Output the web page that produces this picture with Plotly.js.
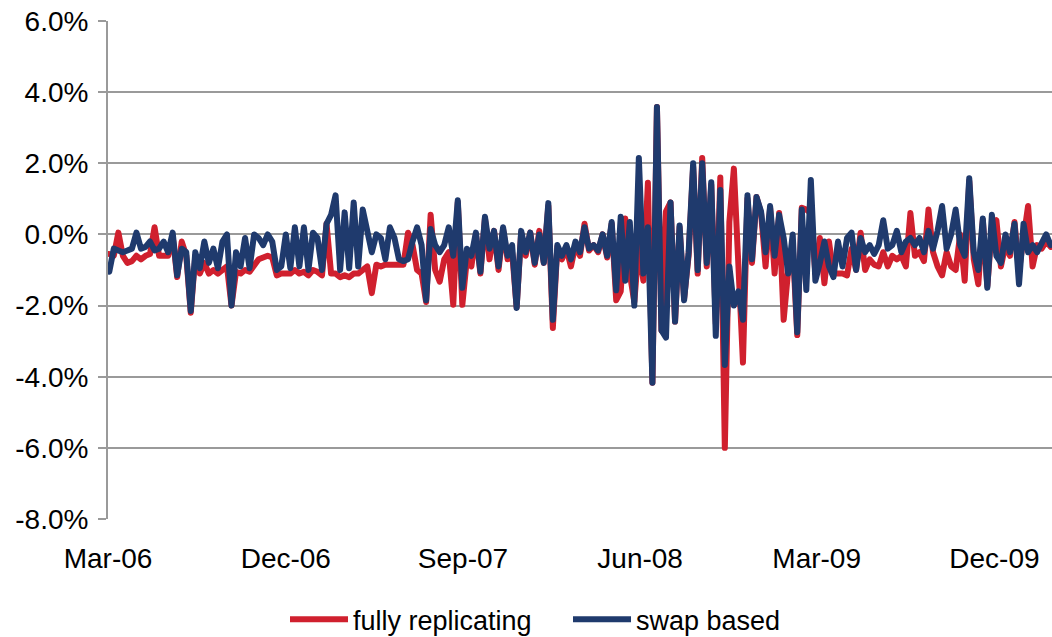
<!DOCTYPE html>
<html>
<head>
<meta charset="utf-8">
<script src="https://cdn.plot.ly/plotly-3.0.1.min.js"></script>
<style>
  html, body { margin: 0; padding: 0; background: #fff; }
  #chart { width: 1052px; height: 637px; }
  .scatterlayer path.js-line { stroke-linejoin: round; stroke-linecap: round; }
</style>
</head>
<body>
<div id="chart"></div>
<script>
// Weekly observations starting 2006-03-03 (one value every 7 days)
const startDate = '2006-03-03';
const stepDays = 7;

const fullyReplicating = [
  -0.55,-0.6,0.05,-0.6,-0.8,-0.75,-0.6,-0.7,-0.6,-0.55,
  0.2,-0.6,-0.6,-0.6,-0.05,-1.2,-0.2,-0.6,-2.2,-0.6,
  -1.1,-0.8,-1.1,-1.0,-1.1,-1.0,-0.9,-2.0,-1.05,-1.1,
  -1.0,-1.05,-0.9,-0.7,-0.65,-0.6,-0.65,-1.15,-1.1,-1.1,
  -1.1,-1.0,-1.1,-1.05,-1.15,-1.0,-1.05,-1.15,0.3,-1.1,
  -1.1,-1.2,-1.15,-1.2,-1.1,-1.1,-1.0,-0.9,-1.65,-0.85,
  -0.9,-0.85,-0.85,-0.85,-0.85,-0.85,0.05,-0.3,-1.0,-1.1,
  -1.9,0.55,-1.0,-1.33,-0.7,-0.5,-1.98,0.9,-1.98,-0.7,
  -0.9,0.0,-1.1,0.45,-0.7,0.1,-1.0,0.15,-0.7,-0.5,
  -2.05,0.05,-0.6,0.05,-0.85,0.1,-0.8,0.8,-2.63,-0.35,
  -0.7,-0.4,-0.9,-0.3,-0.6,0.3,-0.45,-0.3,-0.5,0.0,
  -0.65,0.3,-1.85,-1.6,0.45,-1.1,-1.9,-0.3,-1.3,1.45,
  -4.17,3.58,-2.7,0.65,0.9,-2.45,0.2,-1.8,-0.6,1.9,
  -1.1,2.15,-0.9,1.4,-2.5,1.6,-6.0,0.35,1.85,-1.0,
  -3.6,1.0,-0.8,1.05,0.6,-0.9,0.75,-1.1,0.6,-2.4,
  -1.0,-0.3,-2.83,0.75,0.7,0.6,-1.1,-0.1,-1.37,-0.2,
  -1.1,-1.1,-1.1,-1.15,-0.4,-1.0,0.05,-1.0,-0.7,-0.85,
  -0.9,-0.5,-0.9,-0.6,-0.7,-0.6,-0.9,0.6,-0.6,-0.5,
  -0.75,0.7,-0.5,-0.9,-1.15,-0.5,-0.9,-1.0,0.0,-1.3,
  1.5,-0.7,-1.4,0.4,-1.45,0.2,0.4,-0.9,-0.3,-0.6,
  0.35,-1.0,0.0,0.8,-0.9,-0.3,-0.4,-0.2,-0.35
];

const swapBased = [
  -1.05,-0.4,-0.45,-0.5,-0.45,-0.4,0.05,-0.4,-0.35,-0.2,
  -0.45,-0.4,-0.2,-0.5,0.05,-1.15,-0.4,-0.5,-2.15,-0.5,
  -0.95,-0.2,-0.8,-0.4,-0.95,-0.2,0.0,-2.0,-0.5,-0.9,
  -0.1,-0.95,0.0,-0.1,-0.3,0.0,-0.2,-1.0,-0.9,0.0,
  -0.95,0.2,-0.9,0.2,-1.0,0.05,-0.1,-1.0,0.3,0.55,
  1.1,-1.0,0.62,-0.95,0.9,-0.9,0.7,0.1,-0.5,0.0,
  -0.1,-0.7,0.2,-0.1,-0.7,-0.75,-0.7,-0.2,0.2,-0.3,
  -1.85,0.15,-0.3,-0.5,-0.3,0.2,-0.6,0.96,-1.5,-0.4,
  -0.6,0.05,-1.05,0.5,-0.4,0.1,-0.9,0.2,-0.6,-0.3,
  -2.07,0.1,-0.5,0.05,-0.8,0.0,-0.8,0.88,-2.4,-0.3,
  -0.6,-0.3,-0.7,-0.2,-0.5,0.2,-0.4,-0.3,-0.45,0.0,
  -0.6,0.35,-1.57,0.5,-1.3,0.35,-2.0,2.15,-1.1,0.2,
  -4.17,3.58,-2.7,-2.9,0.9,-2.45,0.25,-1.85,-0.5,2.0,
  -1.0,2.0,-0.8,1.47,-2.85,1.25,-3.67,-0.9,-2.0,-1.6,
  -2.4,1.1,-0.7,1.05,0.65,-0.5,0.8,-0.6,0.55,-0.1,
  -1.1,0.0,-2.75,0.7,-1.56,1.53,-1.3,-0.8,-0.2,-0.9,
  -1.2,-0.2,-0.9,-0.1,0.05,-1.0,-0.1,-0.5,-0.3,-0.55,
  -0.3,0.4,-0.4,-0.3,0.1,-0.5,-0.2,-0.1,-0.3,-0.1,
  -0.5,0.1,-0.4,0.1,0.8,-0.4,0.0,0.7,-0.3,-0.6,
  1.58,-0.5,-1.0,0.45,-1.5,0.55,-0.6,-0.8,0.0,-0.5,
  0.3,-1.4,0.3,-0.5,-0.3,-0.5,-0.2,0.0,-0.3
];

const yTickVals = [-8, -6, -4, -2, 0, 2, 4, 6];
const yTickText = ['-8.0%', '-6.0%', '-4.0%', '-2.0%', '0.0%', '2.0%', '4.0%', '6.0%'];
const xTickVals = ['2006-03-01', '2006-12-01', '2007-09-01', '2008-06-01', '2009-03-01', '2009-12-01'];
const xTickText = ['Mar-06', 'Dec-06', 'Sep-07', 'Jun-08', 'Mar-09', 'Dec-09'];

function buildDates(n) {
  const out = [];
  const t0 = new Date(startDate + 'T00:00:00Z').getTime();
  for (let i = 0; i < n; i++) {
    const d = new Date(t0 + i * stepDays * 86400000);
    out.push(d.toISOString().slice(0, 10));
  }
  return out;
}

const datesRed = buildDates(fullyReplicating.length);
const datesBlue = buildDates(swapBased.length);

const FONT = 'Liberation Sans, Arial, sans-serif';
const GRID = '#9A9A9A';

const traces = [
  {
    x: datesRed, y: fullyReplicating, type: 'scatter', mode: 'lines',
    name: 'fully replicating',
    line: { color: '#D0202E', width: 6 }
  },
  {
    x: datesBlue, y: swapBased, type: 'scatter', mode: 'lines',
    name: 'swap based',
    line: { color: '#1F3A6D', width: 6 }
  }
];

const layout = {
  width: 1052, height: 637,
  margin: { l: 108, r: 0, t: 21, b: 118, autoexpand: false },
  paper_bgcolor: '#ffffff', plot_bgcolor: '#ffffff',
  font: { family: FONT, size: 28, color: '#000000' },
  showlegend: true,
  legend: {
    orientation: 'h', x: 0.1875, xanchor: 'left', y: -0.202, yanchor: 'middle',
    font: { family: FONT, size: 27, color: '#000' },
    itemwidth: 58, entrywidth: 210, entrywidthmode: 'pixels',
    traceorder: 'normal', bgcolor: 'rgba(0,0,0,0)'
  },
  xaxis: {
    type: 'date',
    range: ['2006-03-01', '2010-02-28'],
    tickvals: xTickVals, ticktext: xTickText,
    showgrid: false, zeroline: false,
    showline: false, ticks: '',
    tickfont: { family: FONT, size: 28, color: '#000' },
    ticklabelstandoff: 20
  },
  yaxis: {
    range: [-8, 6],
    tickvals: yTickVals, ticktext: yTickText,
    showgrid: true, gridcolor: GRID, gridwidth: 2,
    zeroline: false,
    showline: true, linecolor: GRID, linewidth: 2,
    ticks: 'outside', ticklen: 8, tickcolor: GRID, tickwidth: 2,
    tickfont: { family: FONT, size: 28, color: '#000' },
    ticklabelstandoff: 4
  }
};

Plotly.newPlot('chart', traces, layout, { staticPlot: true, displayModeBar: false });
</script>
</body>
</html>
